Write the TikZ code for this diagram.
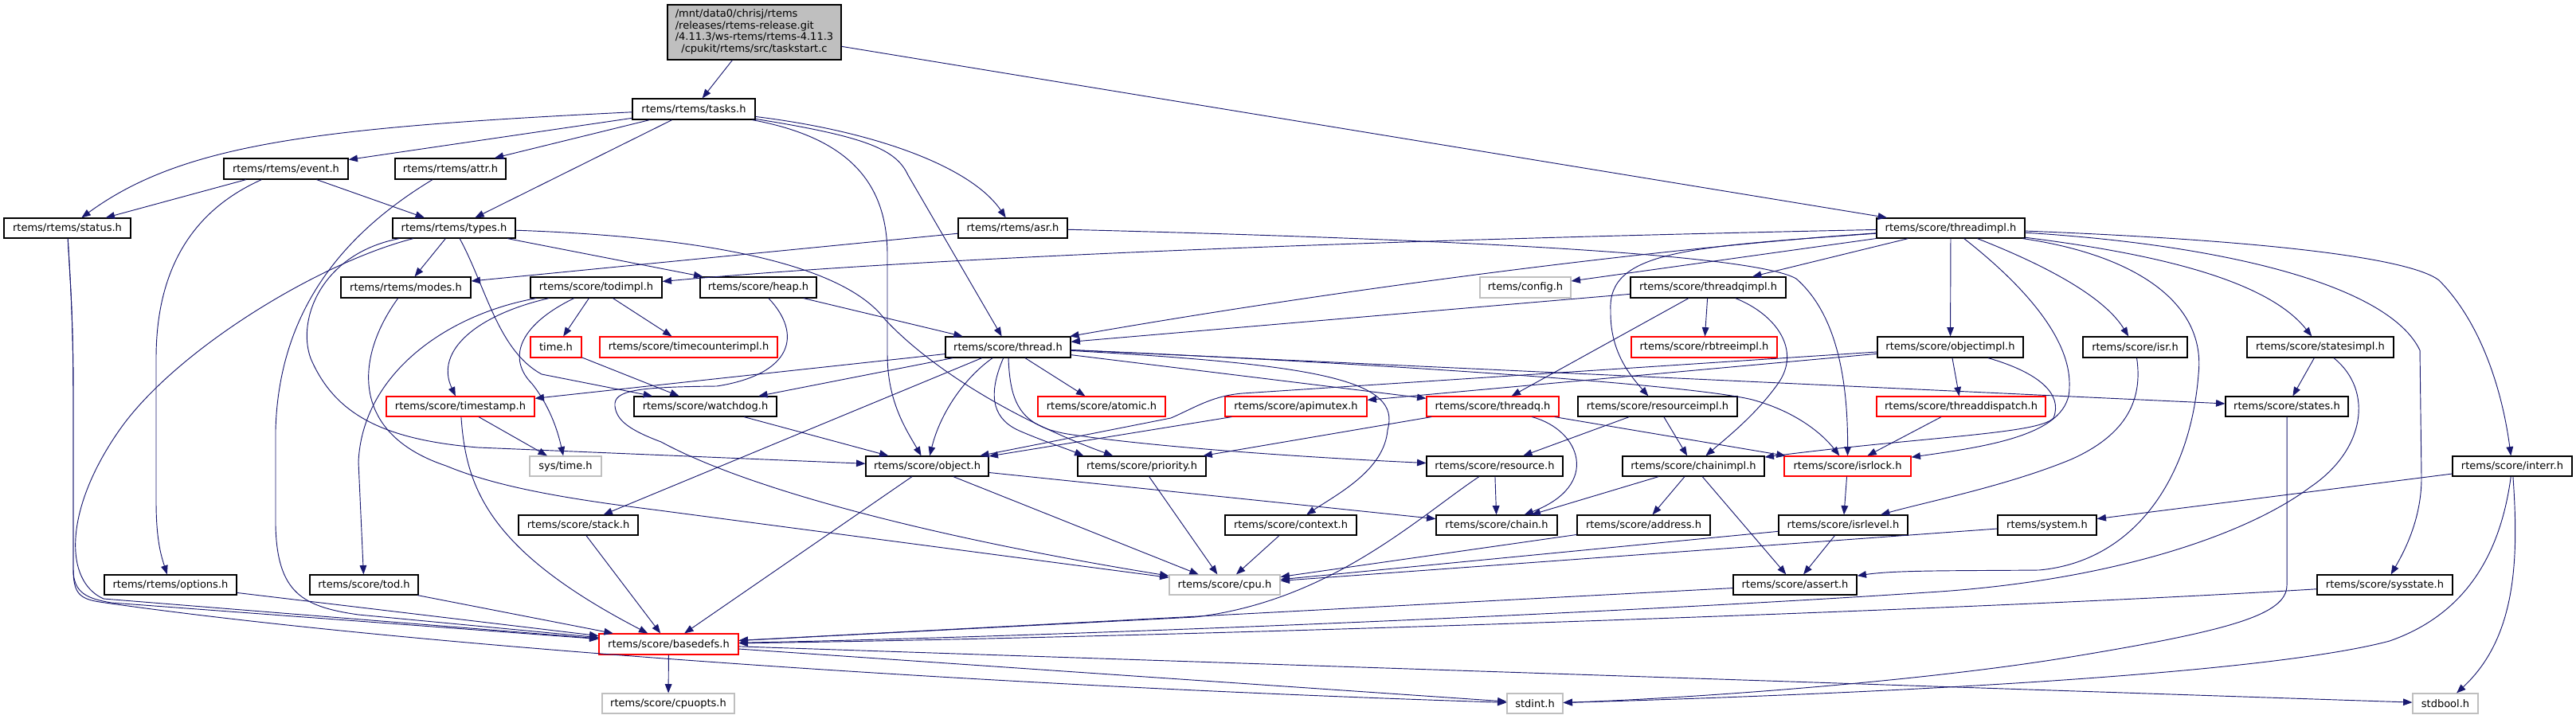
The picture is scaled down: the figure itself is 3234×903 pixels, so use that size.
\documentclass[tikz,border=0pt]{standalone}
\usepackage{fontspec}
\setmainfont{DejaVu Sans}
\usetikzlibrary{arrows.meta}
\definecolor{edgec}{HTML}{191970}
\definecolor{grayb}{HTML}{BFBFBF}
\begin{document}
\begin{tikzpicture}[x=0.75pt,y=-0.75pt,
  box/.style={rectangle, inner sep=0pt, minimum height=18.75pt, fill=white, line width=0.9pt,
    font=\fontsize{9.75}{10.95}\selectfont},
  nb/.style={box, draw=black},
  nr/.style={box, draw=red},
  ng/.style={box, draw=grayb},
  rootbox/.style={box, draw=black, fill=grayb, minimum width=163.5pt, minimum height=51.75pt},
  dep/.style={draw=edgec, line width=0.7pt, -{Triangle[length=8.5pt,width=6.5pt]}}
]
\fill[white] (0,0) rectangle (3234,903);
\useasboundingbox (0,0) rectangle (3234,903);

% ---------------- nodes ----------------
\node[rootbox] (root) at (947,40.5) {\begin{tabular}{@{}l@{}}/mnt/data0/chrisj/rtems\\/releases/rtems-release.git\\/4.11.3/ws-rtems/rtems-4.11.3\\\multicolumn{1}{@{}c@{}}{/cpukit/rtems/src/taskstart.c}\end{tabular}};
\node[nb, minimum width=115.5pt, minimum height=19.5pt] (tasks) at (871,137) {rtems/rtems/tasks.h};
\node[nb, minimum width=117pt, minimum height=19.5pt] (event) at (359,212) {rtems/rtems/event.h};
\node[nb, minimum width=104.25pt, minimum height=19.5pt] (attr) at (565.5,212) {rtems/rtems/attr.h};
\node[nb, minimum width=119.25pt] (status) at (84.5,286.5) {rtems/rtems/status.h};
\node[nb, minimum width=115.5pt] (types) at (570,286.5) {rtems/rtems/types.h};
\node[nb, minimum width=102.75pt] (asr) at (1271.5,286.5) {rtems/rtems/asr.h};
\node[nb, minimum width=139.5pt] (threadimpl) at (2449,286.5) {rtems/score/threadimpl.h};
\node[nb, minimum width=122.25pt, minimum height=19.5pt] (modes) at (509.5,361) {rtems/rtems/modes.h};
\node[nb, minimum width=123.75pt, minimum height=19.5pt] (todimpl) at (748.5,361) {rtems/score/todimpl.h};
\node[nb, minimum width=109.5pt, minimum height=19.5pt] (heap) at (952,361) {rtems/score/heap.h};
\node[ng, minimum width=85.5pt, minimum height=19.5pt] (config) at (1915,361) {rtems/config.h};
\node[nb, minimum width=146.25pt, minimum height=19.5pt] (threadqimpl) at (2144.5,361) {rtems/score/threadqimpl.h};
\node[nr, minimum width=48pt, minimum height=19.5pt] (time) at (698,436) {time.h};
\node[nr, minimum width=167.25pt, minimum height=19.5pt] (timecounterimpl) at (864.5,436) {rtems/score/timecounterimpl.h};
\node[nb, minimum width=117.75pt, minimum height=19.5pt] (thread) at (1265.5,436) {rtems/score/thread.h};
\node[nr, minimum width=137.25pt, minimum height=19.5pt] (rbtreeimpl) at (2139.5,436) {rtems/score/rbtreeimpl.h};
\node[nb, minimum width=137.25pt, minimum height=19.5pt] (objectimpl) at (2448.5,436) {rtems/score/objectimpl.h};
\node[nb, minimum width=98.25pt, minimum height=19.5pt] (isr) at (2680.5,436) {rtems/score/isr.h};
\node[nb, minimum width=138pt, minimum height=19.5pt] (statesimpl) at (2913,436) {rtems/score/statesimpl.h};
\node[nr, minimum width=139.5pt] (timestamp) at (578,510.5) {rtems/score/timestamp.h};
\node[nb, minimum width=134.25pt] (watchdog) at (885.5,510.5) {rtems/score/watchdog.h};
\node[nr, minimum width=120pt] (atomic) at (1383,510.5) {rtems/score/atomic.h};
\node[nr, minimum width=133.5pt] (apimutex) at (1627,510.5) {rtems/score/apimutex.h};
\node[nr, minimum width=124.5pt] (threadq) at (1874,510.5) {rtems/score/threadq.h};
\node[nb, minimum width=150pt] (resourceimpl) at (2081,510.5) {rtems/score/resourceimpl.h};
\node[nr, minimum width=159pt] (threaddispatch) at (2462,510.5) {rtems/score/threaddispatch.h};
\node[nb, minimum width=115.5pt] (states) at (2871,510.5) {rtems/score/states.h};
\node[ng, minimum width=67.5pt] (systime) at (710,585.5) {sys/time.h};
\node[nb, minimum width=115.5pt] (object) at (1164,585.5) {rtems/score/object.h};
\node[nb, minimum width=120.75pt] (priority) at (1433.5,585.5) {rtems/score/priority.h};
\node[nb, minimum width=128.25pt] (resource) at (1876.5,585.5) {rtems/score/resource.h};
\node[nb, minimum width=133.5pt] (chainimpl) at (2126,585.5) {rtems/score/chainimpl.h};
\node[nr, minimum width=119.25pt] (isrlock) at (2319.5,585.5) {rtems/score/isrlock.h};
\node[nb, minimum width=112.5pt] (interr) at (3154,585.5) {rtems/score/interr.h};
\node[nb, minimum width=112.5pt] (stack) at (726,659.5) {rtems/score/stack.h};
\node[nb, minimum width=123.75pt] (context) at (1620.5,659.5) {rtems/score/context.h};
\node[nb, minimum width=114pt] (chain) at (1879,659.5) {rtems/score/chain.h};
\node[nb, minimum width=125.25pt] (address) at (2063.5,659.5) {rtems/score/address.h};
\node[nb, minimum width=121.5pt] (isrlevel) at (2314,659.5) {rtems/score/isrlevel.h};
\node[nb, minimum width=93pt] (system) at (2570,659.5) {rtems/system.h};
\node[nb, minimum width=124.5pt] (options) at (214,734.5) {rtems/rtems/options.h};
\node[nb, minimum width=102pt] (tod) at (457,734.5) {rtems/score/tod.h};
\node[ng, minimum width=104.25pt] (cpu) at (1537.5,734.5) {rtems/score/cpu.h};
\node[nb, minimum width=116.25pt] (assert) at (2253.5,734.5) {rtems/score/assert.h};
\node[nb, minimum width=127.5pt] (sysstate) at (2994,734.5) {rtems/score/sysstate.h};
\node[nr, minimum width=131.25pt, minimum height=19.5pt] (basedefs) at (839.5,809) {rtems/score/basedefs.h};
\node[ng, minimum width=124.5pt] (cpuopts) at (839,883.5) {rtems/score/cpuopts.h};
\node[ng, minimum width=52.5pt] (stdint) at (1927,883.5) {stdint.h};
\node[ng, minimum width=61.5pt] (stdbool) at (3070,883.5) {stdbool.h};

% ---------------- edges ----------------
% root
\draw[dep] (root) -- (tasks);
\draw[dep] (root) -- (threadimpl);
% tasks
\draw[dep] (tasks) .. controls (400,160) and (230,180) .. (status);
\draw[dep] (tasks) -- (event);
\draw[dep] (tasks) -- (attr);
\draw[dep] (tasks) -- (types);
\draw[dep] (tasks) .. controls (1100,165) and (1220,210) .. (asr);
\draw[dep] (tasks) .. controls (1090,172) and (1125,188) .. (1140,220) -- (thread);
\draw[dep] (tasks) .. controls (1060,172) and (1114,225) .. (1114,320) -- (1114,445) .. controls (1114,505) and (1138,540) .. (object);
% event
\draw[dep] (event) -- (status);
\draw[dep] (event) -- (types);
\draw[dep] (event) .. controls (240,265) and (196,340) .. (196,450) -- (196,630) .. controls (196,680) and (203,700) .. (options);
% attr
\draw[dep] (attr) .. controls (420,300) and (350,400) .. (346,540) -- (346,660) .. controls (348,745) and (380,762) .. (450,772) -- (basedefs);
% status
\draw[dep] (status) .. controls (88,350) and (92,400) .. (92,500) -- (92,715) .. controls (92,745) and (110,752) .. (140,757) -- (basedefs);
\draw[dep] (status) .. controls (88,350) and (92,400) .. (92,500) -- (92,715) .. controls (92,745) and (100,752) .. (125,756) .. controls (500,810) and (1200,860) .. (stdint);
% types
\draw[dep] (types) -- (modes);
\draw[dep] (types) .. controls (610,360) and (625,440) .. (680,470) -- (watchdog);
\draw[dep] (types) .. controls (405,318) and (372,400) .. (390,450) .. controls (420,520) and (480,552) .. (600,562) -- (object);
\draw[dep] (types) .. controls (400,330) and (220,440) .. (150,540) .. controls (80,640) and (80,730) .. (130,752) -- (basedefs);
\draw[dep] (types) -- (heap);
\draw[dep] (types) .. controls (900,298) and (1060,335) .. (1110,400) .. controls (1170,465) and (1280,530) .. (priority);
% modes
\draw[dep] (modes) .. controls (445,450) and (440,545) .. (560,585) .. controls (620,610) and (700,625) .. (820,640) -- (cpu);
% asr
\draw[dep] (asr) -- (modes);
\draw[dep] (asr) .. controls (1800,300) and (2200,318) .. (2255,350) .. controls (2295,385) and (2320,450) .. (isrlock);
% threadimpl
\draw[dep] (threadimpl) .. controls (1800,300) and (1200,320) .. (todimpl);
\draw[dep] (threadimpl) .. controls (2100,310) and (1700,360) .. (thread);
\draw[dep] (threadimpl) -- (config);
\draw[dep] (threadimpl) -- (threadqimpl);
\draw[dep] (threadimpl) .. controls (2120,310) and (2018,315) .. (2022,390) .. controls (2021,440) and (2045,470) .. (resourceimpl);
\draw[dep] (threadimpl) -- (objectimpl);
\draw[dep] (threadimpl) .. controls (2560,330) and (2640,370) .. (isr);
\draw[dep] (threadimpl) .. controls (2700,318) and (2845,350) .. (statesimpl);
\draw[dep] (threadimpl) .. controls (2800,300) and (3020,320) .. (3062,352) .. controls (3110,400) and (3140,480) .. (interr);
\draw[dep] (threadimpl) .. controls (2800,308) and (3000,360) .. (3038,440) -- (3040,600) .. controls (3040,650) and (3020,690) .. (sysstate);
\draw[dep] (threadimpl) .. controls (2680,320) and (2770,380) .. (2760,470) .. controls (2750,600) and (2680,705) .. (2560,716) .. controls (2450,717) and (2380,716) .. (assert);
\draw[dep] (threadimpl) .. controls (2530,350) and (2600,420) .. (2598,485) .. controls (2600,545) and (2500,560) .. (isrlock);
% objectimpl
\draw[dep] (objectimpl) .. controls (2560,468) and (2590,495) .. (2578,525) .. controls (2560,545) and (2420,548) .. (chainimpl);
\draw[dep] (objectimpl) -- (threaddispatch);
\draw[dep] (objectimpl) -- (1560,494) .. controls (1522,497) and (1500,512) .. (1470,525) -- (object);
\draw[dep] (objectimpl) -- (apimutex);
% threadqimpl
\draw[dep] (threadqimpl) -- (thread);
\draw[dep] (threadqimpl) -- (rbtreeimpl);
\draw[dep] (threadqimpl) -- (threadq);
\draw[dep] (threadqimpl) .. controls (2230,395) and (2262,440) .. (2232,482) .. controls (2205,520) and (2170,548) .. (chainimpl);
% resourceimpl
\draw[dep] (resourceimpl) -- (resource);
\draw[dep] (resourceimpl) -- (chainimpl);
% threadq
\draw[dep] (threadq) -- (isrlock);
\draw[dep] (threadq) .. controls (1985,540) and (2010,610) .. (chain);
\draw[dep] (threadq) -- (priority);
% threaddispatch
\draw[dep] (threaddispatch) -- (isrlock);
% resource
\draw[dep] (resource) -- (chain);
\draw[dep] (resource) .. controls (1780,650) and (1670,755) .. (1500,775) -- (basedefs);
% chainimpl
\draw[dep] (chainimpl) -- (chain);
\draw[dep] (chainimpl) -- (address);
\draw[dep] (chainimpl) -- (assert);
% isr family
\draw[dep] (isrlock) -- (isrlevel);
\draw[dep] (isrlevel) -- (cpu);
\draw[dep] (isrlevel) -- (assert);
\draw[dep] (isr) .. controls (2690,500) and (2672,545) .. (2600,577) .. controls (2520,610) and (2420,630) .. (isrlevel);
\draw[dep] (address) -- (cpu);
\draw[dep] (system) -- (cpu);
\draw[dep] (context) -- (cpu);
% object
\draw[dep] (object) -- (chain);
\draw[dep] (object) -- (cpu);
\draw[dep] (object) -- (basedefs);
\draw[dep] (priority) -- (cpu);
\draw[dep] (apimutex) -- (object);
% lower ones
\draw[dep] (stack) -- (basedefs);
\draw[dep] (tod) -- (basedefs);
\draw[dep] (options) -- (basedefs);
\draw[dep] (basedefs) -- (cpuopts);
\draw[dep] (basedefs) -- (stdint);
\draw[dep] (basedefs) -- (stdbool);
% heap
\draw[dep] (heap) -- (thread);
\draw[dep] (heap) .. controls (1008,420) and (995,470) .. (900,485) .. controls (800,486) and (770,490) .. (772,510) .. controls (774,528) and (790,540) .. (830,555) .. controls (950,620) and (1200,680) .. (cpu);
% time / watchdog
\draw[dep] (time) -- (watchdog);
\draw[dep] (watchdog) -- (object);
% todimpl
\draw[dep] (todimpl) .. controls (600,395) and (545,440) .. (timestamp);
\draw[dep] (todimpl) .. controls (560,395) and (455,470) .. (450,580) -- (tod);
\draw[dep] (todimpl) .. controls (648,410) and (638,452) .. (668,482) .. controls (690,510) and (700,540) .. (systime);
\draw[dep] (todimpl) -- (time);
\draw[dep] (todimpl) -- (timecounterimpl);
% timestamp
\draw[dep] (timestamp) -- (systime);
\draw[dep] (timestamp) .. controls (585,610) and (610,690) .. (basedefs);
% thread
\draw[dep] (thread) -- (timestamp);
\draw[dep] (thread) -- (watchdog);
\draw[dep] (thread) -- (stack);
\draw[dep] (thread) .. controls (1210,475) and (1180,520) .. (object);
\draw[dep] (thread) .. controls (1238,500) and (1248,528) .. (1282,542) .. controls (1310,554) and (1335,562) .. ([xshift=6pt]priority.north west);
\draw[dep] (thread) .. controls (1268,505) and (1280,535) .. (1340,545) .. controls (1450,562) and (1650,575) .. (resource);
\draw[dep] (thread) -- (atomic);
\draw[dep] (thread) -- (threadq);
\draw[dep] (thread) .. controls (1700,455) and (2120,482) .. (2200,502) .. controls (2255,517) and (2288,545) .. (isrlock);
\draw[dep] (thread) -- (states);
\draw[dep] (thread) .. controls (1660,458) and (1760,478) .. (1742,540) .. controls (1738,590) and (1680,620) .. (context);
% states
\draw[dep] (statesimpl) -- (states);
\draw[dep] (statesimpl) .. controls (2980,490) and (2970,565) .. (2900,612) .. controls (2820,672) and (2650,730) .. (2420,744) .. controls (2000,772) and (1300,800) .. (basedefs);
\draw[dep] (sysstate) .. controls (2500,765) and (1500,800) .. (basedefs);
\draw[dep] (assert) -- (basedefs);
\draw[dep] (states) -- (2871,735) .. controls (2871,772) and (2800,792) .. (2600,825) .. controls (2400,858) and (2100,878) .. (stdint);
% interr
\draw[dep] (interr) -- (system);
\draw[dep] (interr) .. controls (3162,700) and (3160,800) .. (stdbool);
\draw[dep] (interr) .. controls (3140,690) and (3100,770) .. (3000,805) .. controls (2850,845) and (2400,870) .. (stdint);
\end{tikzpicture}
\end{document}
